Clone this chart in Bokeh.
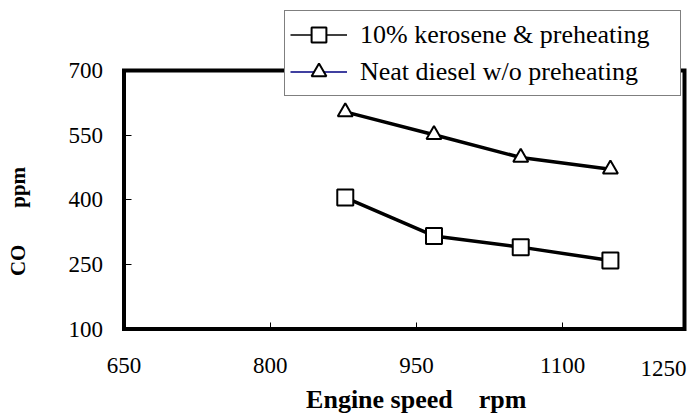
from bokeh.plotting import figure
from bokeh.models import Range1d, FixedTicker, Legend, LegendItem, Label, ColumnDataSource
from bokeh.embed import file_html
from bokeh.resources import INLINE

# ---- data ----
speed = [877, 968, 1057, 1149]
co_kerosene = [405, 316, 290, 259]
co_diesel = [604, 551, 498, 471]
x_ticks = [650, 800, 950, 1100]
x_last_label = "1250"
y_ticks = [100, 250, 400, 550, 700]
series_names = ["10% kerosene & preheating", "Neat diesel w/o preheating"]
NB = "\u00a0"
x_title = NB * 3 + "Engine speed" + NB * 4 + "rpm"
y_title = "CO" + NB * 7 + "ppm"

# ---- layout (pixels on the 688x416 canvas) ----
W, H = 688, 416
BOX_L, BOX_R, BOX_T, BOX_B = 123.5, 684.0, 70.0, 328.5
X_MIN, X_BOX_MAX, X_AXIS_MAX = 650, 1225, 1250
Y_MIN, Y_MAX = 100, 700
Y_TITLE_SPAN = (0, 700)        # axis extent the y title is centred on
FONT = "Liberation Serif"

# the frame fills the whole canvas; the plot box is drawn from the axis limits
xs = (BOX_R - BOX_L) / (X_BOX_MAX - X_MIN)          # px per rpm
ys = (BOX_B - BOX_T) / (Y_MAX - Y_MIN)              # px per ppm
x_range = Range1d(X_MIN - BOX_L / xs, X_MIN + (W - BOX_L) / xs)
y_range = Range1d(Y_MIN - (H - BOX_B) / ys, Y_MIN + BOX_B / ys)

src = ColumnDataSource(dict(x=speed, k=co_kerosene, d=co_diesel))
# legend-only sample lines: a single undefined point, so nothing is drawn in the plot
legend_only = ColumnDataSource(dict(x=[float("nan")], y=[float("nan")]))

p = figure(width=W, height=H, output_backend="svg", toolbar_location=None,
           x_range=x_range, y_range=y_range,
           min_border_left=0, min_border_right=0, min_border_top=0, min_border_bottom=0)

p.background_fill_color = "white"
p.border_fill_color = "white"
p.outline_line_color = None
p.xgrid.visible = False
p.ygrid.visible = False

for ax in (p.xaxis[0], p.yaxis[0]):
    ax.axis_line_color = None
    ax.major_tick_in = 7
    ax.major_tick_out = 0
    ax.major_tick_line_color = "black"
    ax.major_tick_line_width = 1
    ax.minor_tick_line_color = None
    ax.major_label_text_font = FONT
    ax.major_label_text_font_size = "23px"
    ax.major_label_text_color = "black"
    ax.axis_label_text_font = FONT
    ax.axis_label_text_font_style = "bold"
    ax.axis_label_text_color = "black"

xa, ya = p.xaxis[0], p.yaxis[0]
xa.fixed_location = Y_MIN
ya.fixed_location = X_MIN
xa.bounds = (X_MIN, X_AXIS_MAX)
ya.bounds = Y_TITLE_SPAN
xa.ticker = FixedTicker(ticks=x_ticks)
ya.ticker = FixedTicker(ticks=y_ticks)
xa.major_label_standoff = 29
ya.major_label_standoff = 21
xa.axis_label = x_title
ya.axis_label = y_title
xa.axis_label_text_font_size = "26px"
ya.axis_label_text_font_size = "21px"
xa.axis_label_standoff = 8
ya.axis_label_standoff = 36

# plot-area border
p.quad(left=[X_MIN], right=[X_BOX_MAX], bottom=[Y_MIN], top=[Y_MAX],
       fill_color=None, line_color="black", line_width=4, line_join="miter")

# last x tick label sits at the right edge, as in the reference
p.add_layout(Label(x=X_BOX_MAX, y=Y_MIN, text=x_last_label,
                   text_align="right", text_baseline="middle", x_offset=2, y_offset=-39,
                   text_font=FONT, text_font_size="23px", text_color="black"))

# series
p.line("x", "k", source=src, line_color="black", line_width=3.5)
p.line("x", "d", source=src, line_color="black", line_width=3.5)
sq = p.scatter("x", "k", source=src, marker="square", size=16, fill_color="white",
               line_color="black", line_width=2)
tr = p.scatter("x", "d", source=src, marker="triangle", size=15, fill_color="white",
               line_color="black", line_width=2)

# legend sample lines (thin, as drawn in the reference legend)
l1 = p.line("x", "y", source=legend_only, line_color="black", line_width=1.6)
l2 = p.line("x", "y", source=legend_only, line_color="#000080", line_width=1.6)

legend = Legend(items=[LegendItem(label=series_names[0], renderers=[l1, sq]),
                       LegendItem(label=series_names[1], renderers=[l2, tr])],
                location=(284, 320))
legend.label_text_font = FONT
legend.label_text_font_size = "26px"
legend.label_text_color = "black"
legend.glyph_width = 57
legend.glyph_height = 37
legend.label_height = 37
legend.label_width = 315
legend.label_standoff = 13
legend.padding = 5
legend.spacing = 0
legend.margin = 0
legend.border_line_color = "black"
legend.border_line_width = 1.5
legend.background_fill_color = "white"
legend.background_fill_alpha = 1.0
p.add_layout(legend, "center")

open("out.html", "w").write(file_html(p, INLINE))
